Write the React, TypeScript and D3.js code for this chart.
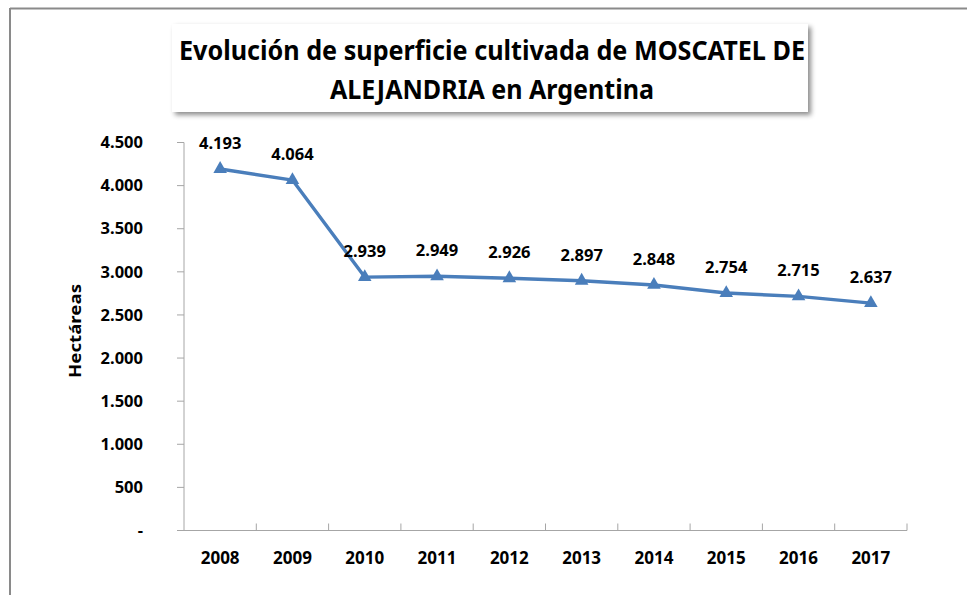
import React from "react";
import * as d3 from "d3";

const years = ["2008", "2009", "2010", "2011", "2012", "2013", "2014", "2015", "2016", "2017"];
const hectareas = [4193, 4064, 2939, 2949, 2926, 2897, 2848, 2754, 2715, 2637];
const yTicks = [0, 500, 1000, 1500, 2000, 2500, 3000, 3500, 4000, 4500];

const titleLines = ["Evolución de superficie cultivada de MOSCATEL DE", "ALEJANDRIA en Argentina"];

const W = 967;
const H = 595;
const plot = { left: 184, right: 907, top: 142.5, bottom: 530.5 };
const font = "'Noto Sans', 'Open Sans', sans-serif";
const lineColor = "#4a7ebb";

const fmt = (v: number) => (v === 0 ? "-" : d3.format(",")(v).replace(/,/g, "."));

const App = () => {
  const x = d3.scaleBand().domain(years).range([plot.left, plot.right]);
  const y = d3.scaleLinear().domain([0, 4500]).range([plot.bottom, plot.top]);
  const cx = (yr: string) => (x(yr) as number) + x.bandwidth() / 2;

  const line = d3
    .line<number>()
    .x((d, i) => cx(years[i]))
    .y((d) => y(d));

  const tri = d3.symbol().type(d3.symbolTriangle).size(80)();

  return (
    <svg width={W} height={H} style={{ position: "absolute", left: 0, top: 0, background: "#fff" }}>
      <defs>
        <filter id="shadow" x="-5%" y="-10%" width="115%" height="130%">
          <feDropShadow dx="3" dy="3" stdDeviation="2.5" floodColor="#000" floodOpacity="0.45" />
        </filter>
      </defs>

      {/* chart border (only top and left visible) */}
      <line x1={10} y1={8.5} x2={W} y2={8.5} stroke="#8a8a8a" strokeWidth={2} />
      <line x1={10} y1={8} x2={10} y2={H} stroke="#8a8a8a" strokeWidth={2} />

      {/* title box */}
      <rect x={172} y={24} width={636} height={88} fill="#fff" filter="url(#shadow)" />
      <text x={492} y={60} textAnchor="middle" fontFamily={font} fontWeight="bold" fontSize={27}
        textLength={626} lengthAdjust="spacingAndGlyphs" fill="#000">
        {titleLines[0]}
      </text>
      <text x={492} y={99} textAnchor="middle" fontFamily={font} fontWeight="bold" fontSize={27}
        textLength={324} lengthAdjust="spacingAndGlyphs" fill="#000">
        {titleLines[1]}
      </text>

      {/* y axis */}
      <line x1={plot.left} y1={plot.top} x2={plot.left} y2={plot.bottom} stroke="#a6a6a6" strokeWidth={1} />
      {yTicks.map((t) => (
        <g key={t}>
          <line x1={plot.left - 7} x2={plot.left} y1={y(t)} y2={y(t)} stroke="#a6a6a6" />
          <text x={143} y={y(t)} dy="0.35em" textAnchor="end" fontFamily={font} fontWeight="bold"
            fontSize={16.5} fill="#000">
            {fmt(t)}
          </text>
        </g>
      ))}
      <text transform={`translate(81,331) rotate(-90)`} textAnchor="middle" fontFamily={font}
        fontWeight="bold" fontSize={16.5} textLength={94} lengthAdjust="spacingAndGlyphs" fill="#000">
        Hectáreas
      </text>

      {/* x axis */}
      <line x1={plot.left - 7} x2={plot.right} y1={plot.bottom} y2={plot.bottom} stroke="#a6a6a6" />
      {years.map((yr) => (
        <g key={yr}>
          <line x1={(x(yr) as number) + x.bandwidth()} x2={(x(yr) as number) + x.bandwidth()}
            y1={plot.bottom - 7} y2={plot.bottom} stroke="#a6a6a6" />
          <text x={cx(yr)} y={558} dy="0.35em" textAnchor="middle" fontFamily={font} fontWeight="bold"
            fontSize={17} fill="#000">
            {yr}
          </text>
        </g>
      ))}

      {/* series */}
      <path d={line(hectareas) || ""} fill="none" stroke={lineColor} strokeWidth={3.4} strokeLinejoin="round" />
      {hectareas.map((v, i) => (
        <g key={i}>
          <path d={tri || ""} transform={`translate(${cx(years[i])},${y(v)})`} fill={lineColor} />
          <text x={cx(years[i])} y={y(v) - 20} textAnchor="middle" fontFamily={font} fontWeight="bold"
            fontSize={16.5} fill="#000">
            {fmt(v)}
          </text>
        </g>
      ))}
    </svg>
  );
};

export default App;
